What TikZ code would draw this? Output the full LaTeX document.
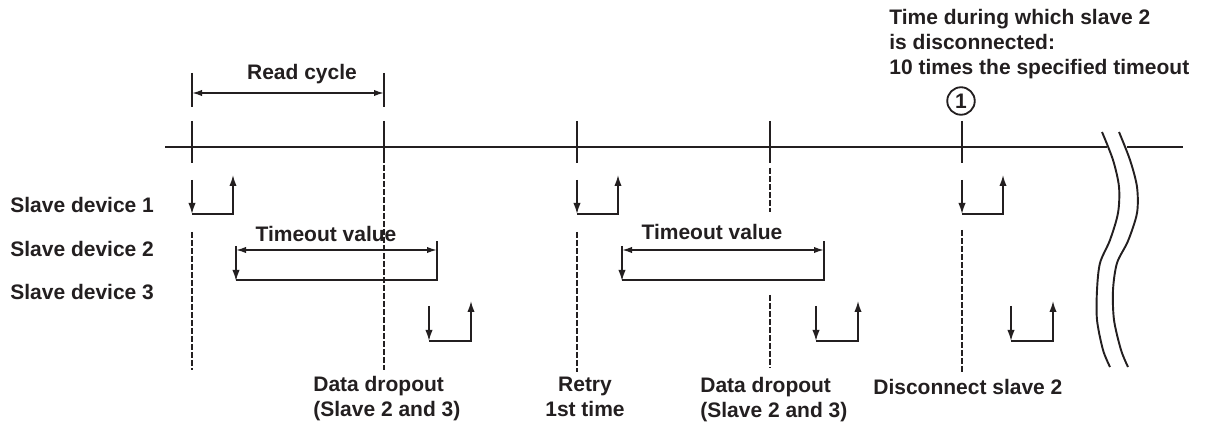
\documentclass[tikz,border=0pt]{standalone}
\usepackage{fontspec}
\setmainfont{Liberation Sans}
\usetikzlibrary{arrows.meta}
\definecolor{ink}{RGB}{35,31,32}
\tikzset{
  lbl/.style={font=\fontsize{12.6}{15}\selectfont\bfseries, text=ink, inner sep=0pt},
  heavy/.style={line width=1.7pt, draw=ink},
  fine/.style={line width=0.95pt, draw=ink},
  arr/.style={fine, -{Latex[length=6.6pt,width=4.4pt]}},
  dim/.style={fine, {Latex[length=6pt,width=3.8pt]}-{Latex[length=6pt,width=3.8pt]}},
  dashline/.style={line width=0.75pt, draw=ink, dash pattern=on 3.6pt off 1.2pt},
  brk/.style={line width=1.15pt, draw=ink}
}
\begin{document}
\begin{tikzpicture}[x=0.6pt,y=-0.6pt]
\useasboundingbox (0,0) rectangle (1206,423);
\coordinate (L0) at (165,147);
\coordinate (L1) at (1107,147);
\coordinate (R0) at (1127,147);
\coordinate (R1) at (1183,147);
% main time line
\draw[heavy] (L0) -- (L1);
\draw[heavy] (R0) -- (R1);
\foreach \x in {192,384,577,770,962}
  \draw[heavy] (\x,121) -- (\x,163);
% break marks
\draw[brk] plot[smooth] coordinates {(1102,132) (1113,160) (1119,187) (1118,213) (1110,240) (1100,263) (1097,290) (1097,320) (1103,350) (1110,367)};
\draw[brk] plot[smooth] coordinates {(1119,132) (1130,160) (1137,187) (1137,213) (1128,241) (1117,263) (1113,290) (1114,320) (1121,350) (1128,367)};
% read cycle
\coordinate (rc1) at (192,93);
\coordinate (rc2) at (384,93);
\draw[fine] (192,73) -- (192,107);
\draw[fine] (384,73) -- (384,107);
\draw[dim] (rc1) -- (rc2);
\node[lbl, anchor=base] (readcycle) at (302,80) {Read cycle};
% circled 1
\node[lbl, draw=ink, line width=1.1pt, circle, minimum size=16.5pt] (c1) at (961,101) {1};
\node[lbl, anchor=north west, align=left] (note) at (889,9)
  {Time during which slave 2\\is disconnected:\\10 times the specified timeout};
% slave labels
\node[lbl, anchor=base west] (s1) at (10,213) {Slave device 1};
\node[lbl, anchor=base west] (s2) at (10,257) {Slave device 2};
\node[lbl, anchor=base west] (s3) at (10,300) {Slave device 3};
% dashed lines
\draw[dashline] (192,232) -- (192,370);
\draw[dashline] (384,165) -- (384,370);
\draw[dashline] (577,232) -- (577,372);
\draw[dashline] (770,168) -- (770,212);
\draw[dashline] (770,295) -- (770,368);
\draw[dashline] (962,230) -- (962,372);
% slave 1 exchanges
\foreach \x in {192,577,962} {
  \draw[arr] (\x,180) -- (\x,214);
  \draw[arr] (\x,214) -- (\x+41,214) -- (\x+41,175);
}
% slave 3 exchanges
\foreach \x in {429,816,1011} {
  \draw[arr] (\x,306) -- (\x,341);
  \draw[arr] (\x,341) -- (\x+42,341) -- (\x+42,301);
}
% timeouts (slave 2)
\foreach \a/\b in {236/437,622/824} {
  \draw[arr] (\a,246) -- (\a,281);
  \draw[fine] (\a,280) -- (\b,280) -- (\b,241);
  \draw[dim] (\a,250) -- (\b,250);
}
\node[lbl, anchor=base] (to1) at (326,242) {Timeout value};
\node[lbl, anchor=base] (to2) at (712,240) {Timeout value};
% bottom labels
\node[lbl, anchor=north west, align=left] (dd1) at (313,376) {Data dropout\\(Slave 2 and 3)};
\node[lbl, anchor=north, align=center] (retry) at (585,377) {Retry\\1st time};
\node[lbl, anchor=north west, align=left] (dd2) at (700,377) {Data dropout\\(Slave 2 and 3)};
\node[lbl, anchor=base west] (disc) at (873,394) {Disconnect slave 2};
\end{tikzpicture}
\end{document}
